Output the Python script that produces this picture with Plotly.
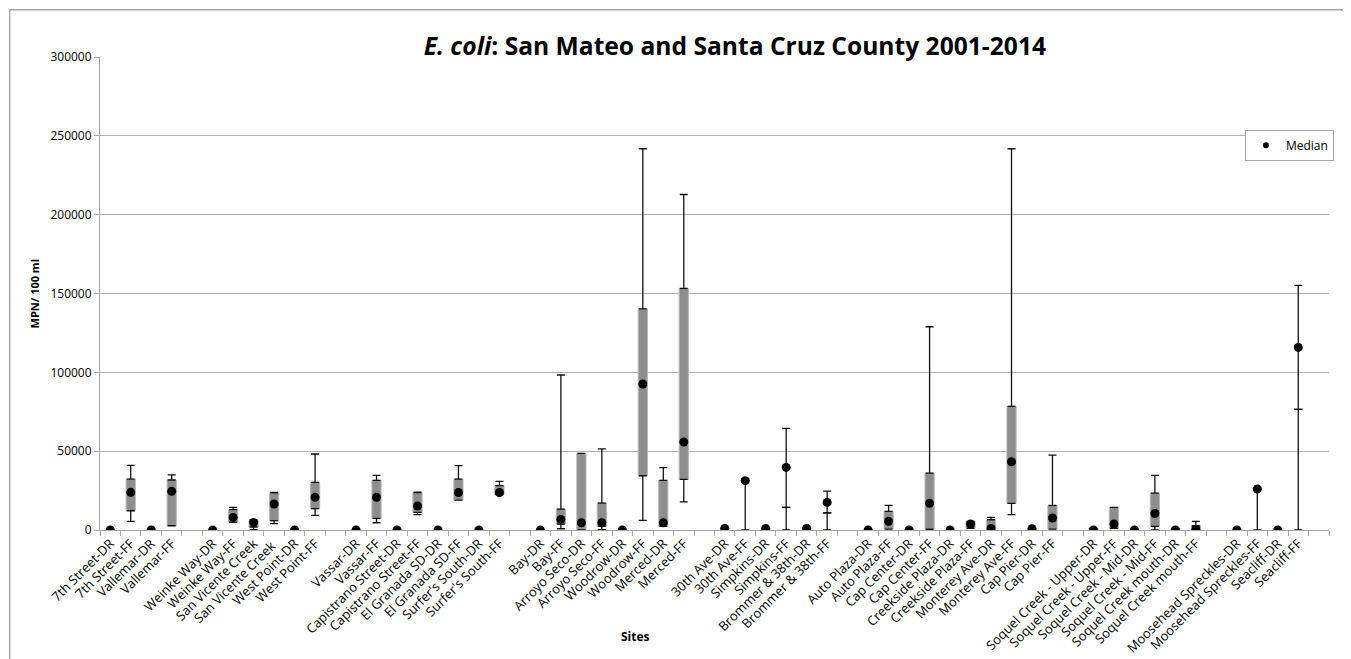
import plotly.graph_objects as go

# sites in plotting order; "" marks an empty slot between site groups
sites = [
    "7th Street-DR", "7th Street-FF", "Vallemar-DR", "Vallemar-FF", "",
    "Weinke Way-DR", "Weinke Way-FF", "San Vicente Creek", "San Vicente Creek",
    "West Point-DR", "West Point-FF", "",
    "Vassar-DR", "Vassar-FF", "Capistrano Street-DR", "Capistrano Street-FF",
    "El Granada SD-DR", "El Granada SD-FF", "Surfer's South-DR", "Surfer's South-FF", "",
    "Bay-DR", "Bay-FF", "Arroyo Seco-DR", "Arroyo Seco-FF", "Woodrow-DR", "Woodrow-FF",
    "Merced-DR", "Merced-FF", "",
    "30th Ave-DR", "30th Ave-FF", "Simpkins-DR", "Simpkins-FF",
    "Brommer & 38th-DR", "Brommer & 38th-FF", "",
    "Auto Plaza-DR", "Auto Plaza-FF", "Cap Center-DR", "Cap Center-FF",
    "Creekside Plaza-DR", "Creekside Plaza-FF", "Monterey Ave-DR", "Monterey Ave-FF",
    "Cap Pier-DR", "Cap Pier-FF", "",
    "Soquel Creek - Upper-DR", "Soquel Creek - Upper-FF", "Soquel Creek - Mid-DR",
    "Soquel Creek - Mid-FF", "Soquel Creek mouth-DR", "Soquel Creek mouth-FF", "",
    "Moosehead Spreckles-DR", "Moosehead Spreckles-FF", "Seacliff-DR", "Seacliff-FF", "",
]

# MPN / 100 ml (None = empty slot)
mins = [0, 5500, 0, 2700, None,
        0, 4800, 200, 4000, 0, 9300, None,
        0, 4600, 0, 9700, 0, 19000, 0, 22400, None,
        0, 800, 0, 200, 0, 6100, 2300, 17900, None,
        1000, 0, 1000, 0, 1000, 0, None,
        0, 600, 0, 0, 0, 1000, 0, 9700, 800, 600, None,
        0, 1000, 0, 0, 0, 0, None,
        0, 0, 0, 0, None]
q1 = [0, 12200, 0, 2700, None,
      0, 5000, 1900, 5900, 0, 13500, None,
      0, 7400, 0, 11200, 0, 19000, 0, 22400, None,
      0, 3800, 0, 2300, 0, 34400, 2300, 32100, None,
      1000, 31300, 1000, 14300, 1000, 10800, None,
      0, 600, 0, 600, 0, 1000, 500, 16900, 800, 600, None,
      0, 1000, 0, 2300, 0, 0, None,
      0, 26000, 0, 76500, None]
medians = [0, 23900, 0, 24500, None,
           0, 8000, 4800, 16500, 0, 20700, None,
           0, 20700, 0, 15200, 0, 23800, 0, 23800, None,
           0, 6700, 4600, 4600, 0, 92600, 4600, 55800, None,
           1000, 31300, 1000, 39700, 1000, 17500, None,
           0, 5500, 0, 16900, 0, 3800, 1000, 43300, 800, 7600, None,
           0, 3800, 0, 10500, 0, 300, None,
           0, 26000, 0, 115800, None]
q3 = [0, 32300, 0, 31700, None,
      0, 12900, 5900, 23500, 0, 30200, None,
      0, 31500, 0, 23800, 0, 32300, 0, 28100, None,
      0, 13300, 48600, 17100, 0, 140300, 31500, 153200, None,
      1000, 31300, 1000, 14300, 1000, 10800, None,
      0, 11800, 0, 36100, 0, 5500, 6500, 78400, 800, 15600, None,
      1000, 14300, 0, 23400, 1000, 2700, None,
      0, 26000, 0, 76500, None]
maxs = [0, 41000, 0, 34900, None,
        0, 14300, 6500, 23900, 0, 48200, None,
        0, 34600, 0, 24000, 0, 40800, 0, 30800, None,
        0, 98300, 48600, 51400, 0, 241800, 39500, 212800, None,
        1000, 32500, 1000, 64400, 1000, 24700, None,
        0, 15600, 0, 128900, 0, 5500, 8000, 241800, 800, 47500, None,
        1000, 14300, 0, 34600, 1000, 5500, None,
        0, 26000, 0, 155100, None]

# category axis needs unique keys: pad blanks / repeated names with spaces
keys, seen = [], set()
for i, s in enumerate(sites):
    k = s if s else " " * (i + 1)
    while k in seen:
        k += " "
    seen.add(k)
    keys.append(k)


def diff(a, b):
    return [None if (x is None or y is None) else x - y for x, y in zip(a, b)]


zeros = [0 if v is not None else None for v in q1]

fig = go.Figure()

# upper whisker: q3 -> max
fig.add_trace(go.Scatter(
    x=keys, y=q3, mode="markers", marker=dict(size=1, opacity=0),
    error_y=dict(type="data", symmetric=False, array=diff(maxs, q3), arrayminus=zeros,
                 color="#111111", thickness=1.3, width=4),
    showlegend=False, hoverinfo="skip",
))
# lower whisker: min -> q1
fig.add_trace(go.Scatter(
    x=keys, y=q1, mode="markers", marker=dict(size=1, opacity=0),
    error_y=dict(type="data", symmetric=False, array=zeros, arrayminus=diff(q1, mins),
                 color="#111111", thickness=1.3, width=4),
    showlegend=False, hoverinfo="skip",
))
# box q1 -> q3
fig.add_trace(go.Bar(
    x=keys, y=diff(q3, q1), base=q1, width=0.45,
    marker=dict(color="#8e8e8e", line=dict(color="#b8b8b8", width=1)),
    showlegend=False, hoverinfo="skip",
))
fig.add_trace(go.Scatter(
    x=keys, y=medians, mode="markers", name="Median",
    marker=dict(color="black", size=9), showlegend=False,
))
# legend entry with the small dot like the original
fig.add_trace(go.Scatter(
    x=[None], y=[None], mode="markers", name="Median",
    marker=dict(color="black", size=6),
))

# page body has an 8px margin, so the figure is offset by 8px in the shot
fig.update_layout(
    width=1351, height=659,
    margin=dict(l=92, r=30, t=49, b=137),
    paper_bgcolor="white", plot_bgcolor="white",
    font=dict(family="Open Sans", size=12, color="black"),
    title=dict(
        text="<b><i>E. coli</i>: San Mateo and Santa Cruz County 2001-2014</b>",
        x=0.538, xanchor="center", y=0.941, yanchor="middle",
        font=dict(family="Open Sans", size=24.6, color="black"),
    ),
    barmode="overlay",
    legend=dict(
        x=1.004, xanchor="right", y=0.846, yanchor="top",
        bgcolor="white", bordercolor="#a6a6a6", borderwidth=1,
        font=dict(size=12), itemwidth=30,
    ),
    xaxis=dict(
        type="category", categoryorder="array", categoryarray=keys,
        range=[-0.5, len(keys) - 0.5], tickangle=-45, automargin=False,
        tickson="boundaries", ticks="outside", ticklen=5, tickcolor="#a6a6a6",
        showline=True, linecolor="#a6a6a6", linewidth=1,
        showgrid=False, tickfont=dict(size=13),
    ),
    yaxis=dict(
        range=[0, 300000], dtick=50000, tickformat="d", automargin=False,
        ticks="outside", ticklen=5, tickcolor="#a6a6a6",
        showline=True, linecolor="#a6a6a6", linewidth=1,
        showgrid=True, gridcolor="#b0b0b0", gridwidth=1,
        zeroline=False, tickfont=dict(size=12),
    ),
    annotations=[
        dict(text="<b>MPN/ 100 ml</b>", textangle=-90, xref="paper", yref="paper",
             x=-0.0529, y=0.5, xanchor="center", yanchor="middle",
             showarrow=False, font=dict(size=11)),
        dict(text="<b>Sites</b>", xref="paper", yref="paper",
             x=0.436, y=-0.226, xanchor="center", yanchor="middle",
             showarrow=False, font=dict(size=12)),
    ],
    shapes=[
        dict(type="rect", xref="paper", yref="paper",
             x0=-0.0735, x1=1.013, y0=-0.3, y1=1.1,
             line=dict(color="#a6a6a6", width=1.5), layer="below"),
    ],
)

fig.write_html("out.html")
